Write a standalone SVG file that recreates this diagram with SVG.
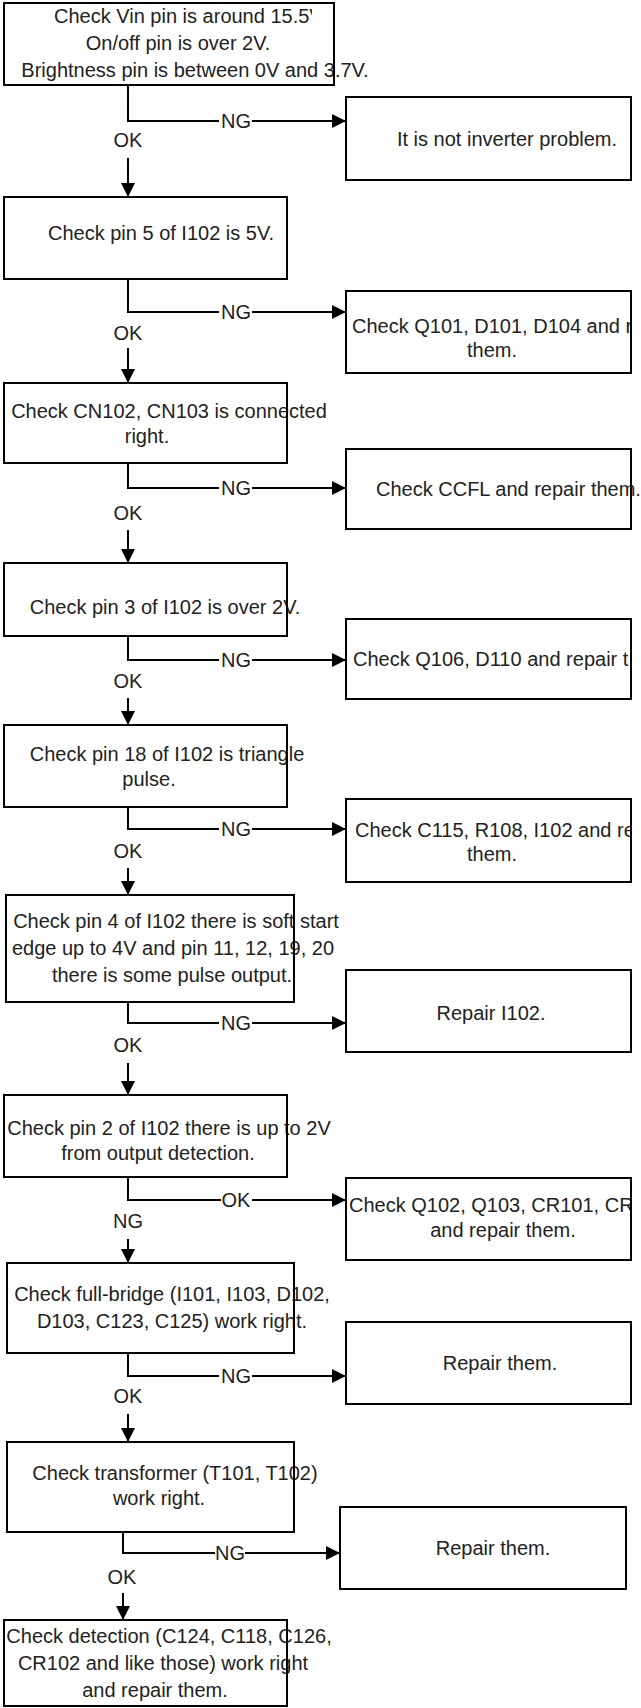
<svg xmlns="http://www.w3.org/2000/svg" width="641" height="1708" viewBox="0 0 641 1708">
<style>
.box{fill:none;stroke:#000;stroke-width:2}
.ln{fill:none;stroke:#000;stroke-width:2}
.t{font-family:"Liberation Sans",Arial,sans-serif;font-size:20px;fill:#222}
.m{text-anchor:middle}
</style>
<defs>
<marker id="ah" markerUnits="userSpaceOnUse" viewBox="0 0 14 14" refX="14" refY="7" markerWidth="14" markerHeight="14" orient="auto">
<path d="M0,0 L14,7 L0,14 z" fill="#000"/>
</marker>
<clipPath id="clipR"><rect x="0" y="0" width="631" height="1708"/></clipPath>
<clipPath id="clipV"><rect x="0" y="0" width="312" height="40"/></clipPath>
</defs>
<rect x="0" y="0" width="641" height="1708" fill="#fff"/>

<g id="connectors">
<path class="ln" d="M128,85 V121 H219"/><path class="ln" d="M252,121 H346" marker-end="url(#ah)"/><path class="ln" d="M128,158 V197" marker-end="url(#ah)"/>
<path class="ln" d="M128,279 V312 H219"/><path class="ln" d="M252,312 H346" marker-end="url(#ah)"/><path class="ln" d="M128,348 V383" marker-end="url(#ah)"/>
<path class="ln" d="M128,463 V488 H219"/><path class="ln" d="M252,488 H346" marker-end="url(#ah)"/><path class="ln" d="M128,530 V563" marker-end="url(#ah)"/>
<path class="ln" d="M128,636 V660 H219"/><path class="ln" d="M252,660 H346" marker-end="url(#ah)"/><path class="ln" d="M128,698 V725" marker-end="url(#ah)"/>
<path class="ln" d="M128,807 V829 H219"/><path class="ln" d="M252,829 H346" marker-end="url(#ah)"/><path class="ln" d="M128,868 V895" marker-end="url(#ah)"/>
<path class="ln" d="M128,1002 V1023 H219"/><path class="ln" d="M252,1023 H346" marker-end="url(#ah)"/><path class="ln" d="M128,1063 V1095" marker-end="url(#ah)"/>
<path class="ln" d="M128,1177 V1200 H221"/><path class="ln" d="M252,1200 H346" marker-end="url(#ah)"/><path class="ln" d="M128,1239 V1263" marker-end="url(#ah)"/>
<path class="ln" d="M128,1353 V1376 H219"/><path class="ln" d="M252,1376 H346" marker-end="url(#ah)"/><path class="ln" d="M128,1414 V1442" marker-end="url(#ah)"/>
<path class="ln" d="M123,1532 V1553 H215"/><path class="ln" d="M245,1553 H340" marker-end="url(#ah)"/><path class="ln" d="M123,1593 V1620" marker-end="url(#ah)"/>
<text class="t m" x="236" y="128">NG</text><text class="t m" x="128" y="147">OK</text>
<text class="t m" x="236" y="319">NG</text><text class="t m" x="128" y="340">OK</text>
<text class="t m" x="236" y="495">NG</text><text class="t m" x="128" y="520">OK</text>
<text class="t m" x="236" y="667">NG</text><text class="t m" x="128" y="688">OK</text>
<text class="t m" x="236" y="836">NG</text><text class="t m" x="128" y="858">OK</text>
<text class="t m" x="236" y="1030">NG</text><text class="t m" x="128" y="1052">OK</text>
<text class="t m" x="236" y="1207">OK</text><text class="t m" x="128" y="1228">NG</text>
<text class="t m" x="236" y="1383">NG</text><text class="t m" x="128" y="1403">OK</text>
<text class="t m" x="230" y="1560">NG</text><text class="t m" x="122" y="1584">OK</text>
</g>

<g id="n1">
<text class="t" x="54" y="23" clip-path="url(#clipV)">Check Vin pin is around 15.5V</text>
<text class="t m" x="178" y="50">On/off pin is over 2V.</text>
<text class="t m" x="195" y="77">Brightness pin is between 0V and 3.7V.</text>
<rect class="box" x="4" y="3" width="330" height="82"/>
</g>
<g id="r1">
<text class="t m" x="507" y="146">It is not inverter problem.</text>
<rect class="box" x="346" y="97" width="285" height="83"/>
</g>

<g id="n2">
<text class="t m" x="161" y="240">Check pin 5 of I102 is 5V.</text>
<rect class="box" x="4" y="197" width="283" height="82"/>
</g>
<g id="r2">
<text class="t" x="352" y="333" clip-path="url(#clipR)">Check Q101, D101, D104 and r</text>
<text class="t m" x="492" y="357">them.</text>
<rect class="box" x="346" y="291" width="285" height="82"/>
</g>

<g id="n3">
<text class="t m" x="169" y="418">Check CN102, CN103 is connected</text>
<text class="t m" x="147" y="443">right.</text>
<rect class="box" x="4" y="383" width="283" height="80"/>
</g>
<g id="r3">
<text class="t" x="376" y="496">Check CCFL and repair them.</text>
<rect class="box" x="346" y="449" width="285" height="80"/>
</g>

<g id="n4">
<text class="t m" x="165" y="614">Check pin 3 of I102 is over 2V.</text>
<rect class="box" x="4" y="563" width="283" height="73"/>
</g>
<g id="r4">
<text class="t" x="353" y="666" clip-path="url(#clipR)">Check Q106, D110 and repair t</text>
<rect class="box" x="346" y="619" width="285" height="80"/>
</g>

<g id="n5">
<text class="t m" x="167" y="761">Check pin 18 of I102 is triangle</text>
<text class="t m" x="149" y="786">pulse.</text>
<rect class="box" x="4" y="725" width="283" height="82"/>
</g>
<g id="r5">
<text class="t" x="355" y="837" clip-path="url(#clipR)">Check C115, R108, I102 and re</text>
<text class="t m" x="492" y="861">them.</text>
<rect class="box" x="346" y="799" width="285" height="83"/>
</g>

<g id="n6">
<text class="t m" x="176" y="928">Check pin 4 of I102 there is soft start</text>
<text class="t m" x="173" y="955">edge up to 4V and pin 11, 12, 19, 20</text>
<text class="t m" x="172" y="982">there is some pulse output.</text>
<rect class="box" x="6" y="895" width="288" height="107"/>
</g>
<g id="r6">
<text class="t m" x="491" y="1020">Repair I102.</text>
<rect class="box" x="346" y="970" width="285" height="82"/>
</g>

<g id="n7">
<text class="t m" x="169" y="1135">Check pin 2 of I102 there is up to 2V</text>
<text class="t m" x="158" y="1160">from output detection.</text>
<rect class="box" x="4" y="1095" width="283" height="82"/>
</g>
<g id="r7">
<text class="t" x="349" y="1212" clip-path="url(#clipR)">Check Q102, Q103, CR101, CR</text>
<text class="t m" x="503" y="1237">and repair them.</text>
<rect class="box" x="346" y="1178" width="285" height="82"/>
</g>

<g id="n8">
<text class="t m" x="172" y="1301">Check full-bridge (I101, I103, D102,</text>
<text class="t m" x="172" y="1328">D103, C123, C125) work right.</text>
<rect class="box" x="7" y="1263" width="287" height="90"/>
</g>
<g id="r8">
<text class="t m" x="500" y="1370">Repair them.</text>
<rect class="box" x="346" y="1322" width="285" height="82"/>
</g>

<g id="n9">
<text class="t m" x="175" y="1480">Check transformer (T101, T102)</text>
<text class="t m" x="159" y="1505">work right.</text>
<rect class="box" x="7" y="1442" width="287" height="90"/>
</g>
<g id="r9">
<text class="t m" x="493" y="1555">Repair them.</text>
<rect class="box" x="340" y="1507" width="286" height="82"/>
</g>

<g id="n10">
<text class="t m" x="169" y="1643">Check detection (C124, C118, C126,</text>
<text class="t m" x="163" y="1670">CR102 and like those) work right</text>
<text class="t m" x="155" y="1697">and repair them.</text>
<rect class="box" x="4" y="1620" width="283" height="86"/>
</g>
</svg>
